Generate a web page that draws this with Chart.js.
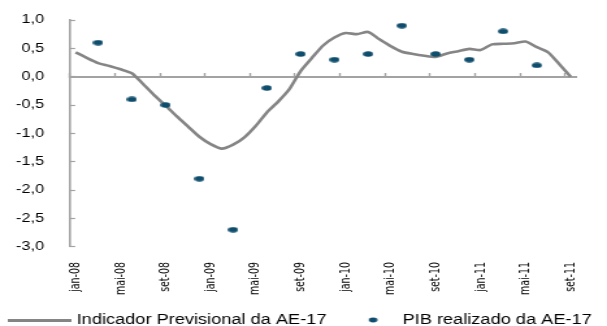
<!DOCTYPE html>
<html>
<head>
<meta charset="utf-8">
<script src="https://cdn.jsdelivr.net/npm/chart.js@4.4.1/dist/chart.umd.min.js"></script>
<style>
  html, body { margin: 0; padding: 0; background: #fff; overflow: hidden; }
  /* o original está esticado na horizontal */
  #chart { display: block; transform-origin: 0 0; transform: scaleX(1.2998); }
</style>
</head>
<body>
<canvas id="chart" width="467" height="326"></canvas>
<script>
// meses (eixo das categorias)
const months = [
  'jan-08', 'fev-08', 'mar-08', 'abr-08', 'mai-08', 'jun-08', 'jul-08', 'ago-08', 'set-08', 'out-08', 'nov-08', 'dez-08',
  'jan-09', 'fev-09', 'mar-09', 'abr-09', 'mai-09', 'jun-09', 'jul-09', 'ago-09', 'set-09', 'out-09', 'nov-09', 'dez-09',
  'jan-10', 'fev-10', 'mar-10', 'abr-10', 'mai-10', 'jun-10', 'jul-10', 'ago-10', 'set-10', 'out-10', 'nov-10', 'dez-10',
  'jan-11', 'fev-11', 'mar-11', 'abr-11', 'mai-11', 'jun-11', 'jul-11', 'ago-11', 'set-11'
];

// Indicador Previsional da AE-17 (mensal)
const indicador = [
  0.43, 0.33, 0.24, 0.19, 0.13, 0.06, -0.13, -0.33, -0.51, -0.70, -0.88, -1.06,
  -1.19, -1.27, -1.20, -1.07, -0.87, -0.63, -0.44, -0.22, 0.10, 0.33, 0.55, 0.69,
  0.77, 0.75, 0.79, 0.66, 0.54, 0.44, 0.40, 0.37, 0.35, 0.41, 0.45, 0.49,
  0.47, 0.57, 0.58, 0.59, 0.62, 0.52, 0.43, 0.22, 0.00
];

// PIB realizado da AE-17 (trimestral)
const pibMonths = ['mar-08', 'jun-08', 'set-08', 'dez-08', 'mar-09', 'jun-09', 'set-09', 'dez-09',
                   'mar-10', 'jun-10', 'set-10', 'dez-10', 'mar-11', 'jun-11'];
const pibValues = [0.6, -0.4, -0.5, -1.8, -2.7, -0.2, 0.4, 0.3, 0.4, 0.9, 0.4, 0.3, 0.8, 0.2];

// marcas do eixo vertical
const yTicks = [1.0, 0.5, 0.0, -0.5, -1.0, -1.5, -2.0, -2.5, -3.0];

const lineGray = '#858585';
const axisGray = '#a3a3a3';
const pibBlue = '#0e4d6c';

Chart.defaults.font.family = '"Liberation Sans", Arial, sans-serif';
Chart.defaults.color = '#000';

function makeSwatch(w, h, draw) {
  const c = document.createElement('canvas');
  c.width = w;
  c.height = h;
  draw(c.getContext('2d'));
  return c;
}

// ponto elíptico dos dados
const dotImg = makeSwatch(8, 6, ctx => {
  ctx.fillStyle = pibBlue;
  ctx.beginPath();
  ctx.ellipse(4, 3, 3.85, 2.75, 0, 0, Math.PI * 2);
  ctx.fill();
});

// amostras da legenda
const legendLine = makeSwatch(54, 3, ctx => {
  ctx.fillStyle = lineGray;
  ctx.fillRect(5, 0, 49, 3);
});
const legendDot = makeSwatch(26, 6, ctx => {
  ctx.fillStyle = pibBlue;
  ctx.beginPath();
  ctx.ellipse(21.3, 3, 3.3, 2.4, 0, 0, Math.PI * 2);
  ctx.fill();
});

const fmt = v => v.toFixed(1).replace('.', ',');

new Chart(document.getElementById('chart'), {
  type: 'line',
  data: {
    labels: months,
    datasets: [
      {
        label: 'Indicador Previsional da AE-17',
        data: indicador,
        borderColor: lineGray,
        backgroundColor: lineGray,
        borderWidth: 2.6,
        pointRadius: 0,
        tension: 0.2,
        order: 2
      },
      {
        label: 'PIB realizado da AE-17',
        data: pibMonths.map((m, i) => ({ x: m, y: pibValues[i] })),
        showLine: false,
        pointStyle: dotImg,
        pointRadius: 4,
        backgroundColor: pibBlue,
        borderColor: pibBlue,
        order: 1
      }
    ]
  },
  options: {
    responsive: false,
    animation: false,
    events: [],
    layout: { padding: { top: 20, right: 7.8, bottom: -11, left: 0 } },
    scales: {
      x: {
        type: 'category',
        offset: true,
        border: { display: false },
        grid: { display: false, drawTicks: false },
        ticks: {
          autoSkip: false,
          minRotation: 90,
          maxRotation: 90,
          padding: 15.3,
          font: { family: '"Liberation Sans Narrow", "DejaVu Sans Condensed", "Liberation Sans", sans-serif', size: 10.5 },
          callback: (v, i) => (i % 4 === 0 ? months[i] : '')
        },
        afterFit: scale => { scale.height = 62.8; }
      },
      // linha do zero com marcas a cada 4 meses
      x0: {
        type: 'category',
        position: { y: 0 },
        offset: true,
        border: { display: true, color: axisGray, width: 2 },
        grid: {
          display: true,
          offset: true,
          drawOnChartArea: false,
          drawTicks: true,
          tickLength: -5,
          tickWidth: 1.4,
          tickColor: c => (c.index % 4 === 0 ? axisGray : 'rgba(0,0,0,0)')
        },
        ticks: { display: false }
      },
      y: {
        min: Math.min(...yTicks),
        max: Math.max(...yTicks),
        border: { display: true, color: axisGray, width: 1.6 },
        grid: {
          drawOnChartArea: false,
          drawTicks: true,
          tickLength: -4,
          tickWidth: 1.2,
          tickColor: axisGray
        },
        ticks: {
          stepSize: 0.5,
          padding: 24,
          font: { size: 12.5 },
          callback: v => fmt(v)
        },
        afterFit: scale => {
          scale.width = 53.85;
          scale.paddingTop = 0;
          scale.paddingBottom = 0;
        }
      }
    },
    plugins: {
      tooltip: { enabled: false },
      legend: {
        position: 'bottom',
        labels: {
          usePointStyle: true,
          pointStyleWidth: 48,
          padding: 3.5,
          font: { size: 14 },
          color: '#000',
          sort: (a, b) => a.datasetIndex - b.datasetIndex,
          generateLabels: chart => {
            const items = Chart.defaults.plugins.legend.labels.generateLabels(chart);
            items.forEach(it => {
              it.pointStyle = it.datasetIndex === 0 ? legendLine : legendDot;
            });
            return items;
          }
        }
      }
    }
  }
});
</script>
</body>
</html>
